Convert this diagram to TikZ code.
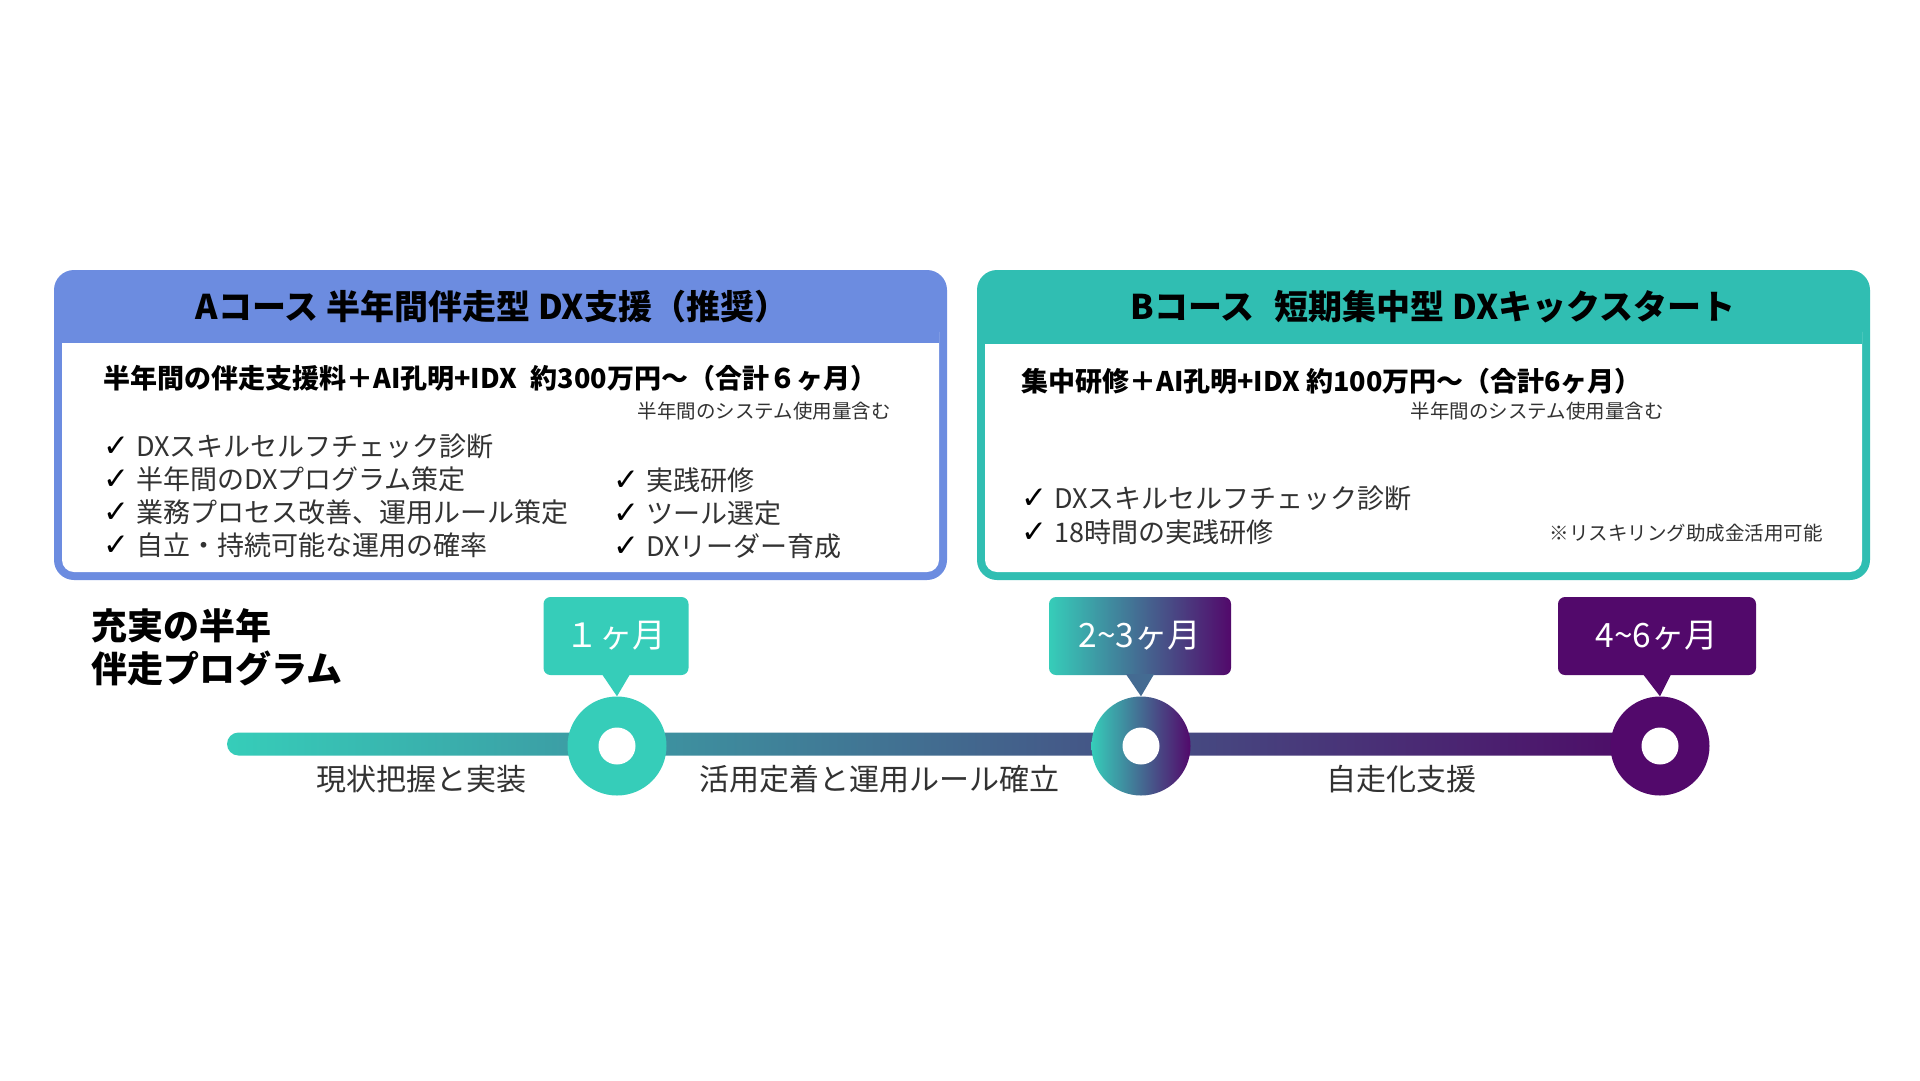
\documentclass[tikz,border=0pt]{standalone}
\usepackage{fontspec}
\setmainfont{Noto Sans CJK JP}
\newfontfamily\chk{DejaVu Sans}
\definecolor{acol}{RGB}{108,140,224}
\definecolor{bcol}{RGB}{48,190,178}
\definecolor{tlteal}{RGB}{54,205,185}
\definecolor{tlpurple}{RGB}{82,9,107}
\definecolor{gtxt}{RGB}{50,50,50}
\begin{document}
\begin{tikzpicture}[x=1pt,y=-1pt,
  hdr/.style={font=\fontsize{34}{40}\selectfont\bfseries, text=black, inner sep=0pt},
  price/.style={font=\fontsize{27}{32}\selectfont\bfseries, text=black, anchor=west, inner sep=0pt},
  smallnote/.style={font=\fontsize{19.5}{22}\selectfont, text=gtxt, anchor=east, inner sep=0pt},
  item/.style={font=\fontsize{27}{32}\selectfont, text=gtxt, anchor=west, inner sep=0pt},
  ttl/.style={font=\fontsize{36}{40}\selectfont\bfseries, text=black, anchor=west, inner sep=0pt},
  phase/.style={font=\fontsize{30}{34}\selectfont, text=gtxt, inner sep=0pt},
  callout/.style={rounded corners=7pt, minimum height=78pt, text=white, font=\fontsize{33.5}{38}\selectfont, inner sep=0pt},
  ring/.style={circle, minimum size=99pt, inner sep=0pt},
  hole/.style={circle, fill=white, minimum size=37pt, inner sep=0pt}
]
\newcommand{\ck}{{\chk\bfseries\fontsize{31}{32}\selectfont\color{black}✓}\hspace{7pt}}
\newcommand{\wave}{\textasciitilde}
\useasboundingbox[fill=white] (0,0) rectangle (1920,1080);

% ---- Box A ----
\fill[acol, rounded corners=20pt] (54,270) rectangle (947,580);
\fill[white, rounded corners=12pt] (62,320) rectangle (939,572);
\fill[acol] (62,300) rectangle (939,343);
\node[hdr] (ah) at (492,307) {Aコース 半年間伴走型 DX支援（推奨）};
\node[price] (ap) at (103,378) {半年間の伴走支援料＋AI孔明+IDX\hspace{14pt}約300万円～（合計６ヶ月）};
\node[smallnote] (an) at (891,411) {半年間のシステム使用量含む};
\node[item] (a1) at (103,446) {\ck DXスキルセルフチェック診断};
\node[item] (a2) at (103,479) {\ck 半年間のDXプログラム策定};
\node[item] (a3) at (103,512) {\ck 業務プロセス改善、運用ルール策定};
\node[item] (a4) at (103,545) {\ck 自立・持続可能な運用の確率};
\node[item] (a5) at (613,480) {\ck 実践研修};
\node[item] (a6) at (613,513) {\ck ツール選定};
\node[item] (a7) at (613,546) {\ck DXリーダー育成};

% ---- Box B ----
\fill[bcol, rounded corners=20pt] (977,270) rectangle (1870,580);
\fill[white, rounded corners=12pt] (985,320) rectangle (1862,572);
\fill[bcol] (985,300) rectangle (1862,344);
\node[hdr] (bh) at (1433,307) {Bコース\hspace{20pt}短期集中型 DXキックスタート};
\node[price] (bp) at (1021,381) {集中研修＋AI孔明+IDX 約100万円～（合計6ヶ月）};
\node[smallnote] (bn) at (1664,411) {半年間のシステム使用量含む};
\node[item] (b1) at (1021,498) {\ck DXスキルセルフチェック診断};
\node[item] (b2) at (1021,532) {\ck 18時間の実践研修};
\node[smallnote] (bx) at (1823,533) {※リスキリング助成金活用可能};

% ---- Title ----
\node[ttl] (t1) at (91,626) {充実の半年};
\node[ttl] (t2) at (91,668) {伴走プログラム};

% ---- Timeline bar ----
\coordinate (start) at (227,744);
\coordinate (endpt) at (1660,744);
\shade[rounded corners=11.5pt, left color=tlteal, right color=tlpurple!95!black]
  ([yshift=11.5pt]start) rectangle ([yshift=-11.5pt]endpt);

% ---- Milestone rings ----
\node[ring, fill=tlteal] (r1) at (617,746) {};
\node[ring, left color=tlteal, right color=tlpurple] (r2) at (1141,746) {};
\node[ring, fill=tlpurple] (r3) at (1660,746) {};
\node[hole] (h1) at (r1) {};
\node[hole] (h2) at (r2) {};
\node[hole] (h3) at (r3) {};

% ---- Callouts ----
\node[callout, fill=tlteal, minimum width=145pt] (c1) at (616,636) {１ヶ月};
\node[callout, left color=tlteal, right color=tlpurple, minimum width=182pt] (c2) at (1140,636) {2\wave 3ヶ月};
\node[callout, fill=tlpurple, minimum width=198pt] (c3) at (1657,636) {4\wave 6ヶ月};
\fill[tlteal] ([xshift=-14pt,yshift=1pt]c1.south) -- ([xshift=14pt,yshift=1pt]c1.south) -- (r1.north) -- cycle;
\fill[tlteal!50!tlpurple] ([xshift=-14pt,yshift=1pt]c2.south) -- ([xshift=14pt,yshift=1pt]c2.south) -- (r2.north) -- cycle;
\fill[tlpurple] ([xshift=-14pt,yshift=1pt]c3.south) -- ([xshift=14pt,yshift=1pt]c3.south) -- (r3.north) -- cycle;

% ---- Phase labels ----
\node[phase] (p1) at (421,779) {現状把握と実装};
\node[phase] (p2) at (879,779) {活用定着と運用ルール確立};
\node[phase] (p3) at (1401,779) {自走化支援};
\end{tikzpicture}
\end{document}
